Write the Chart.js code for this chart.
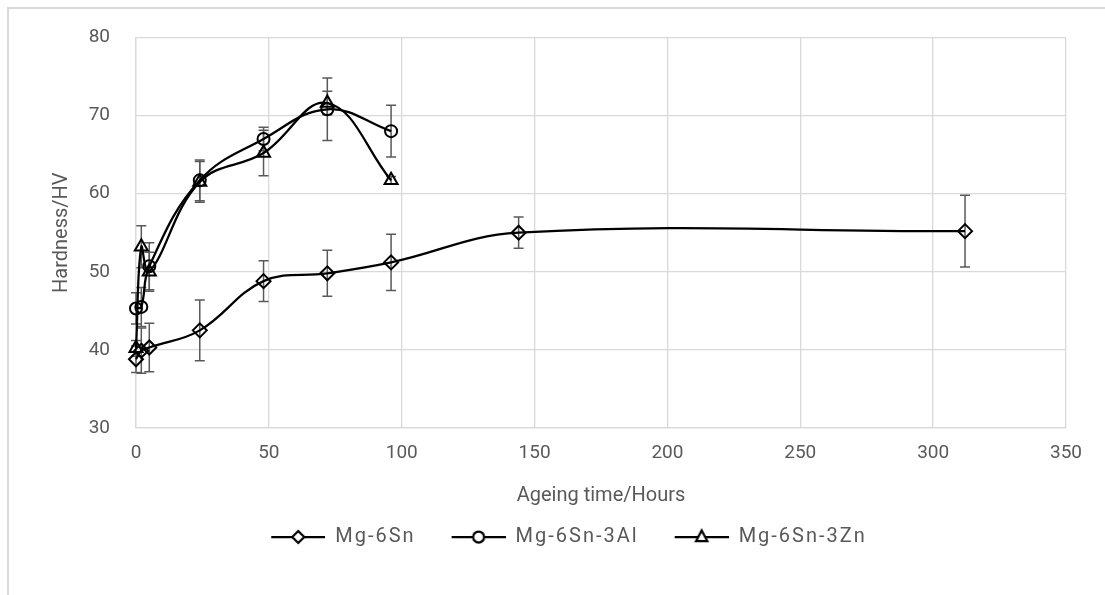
<!DOCTYPE html>
<html>
<head>
<meta charset="utf-8">
<script src="https://cdn.jsdelivr.net/npm/chart.js@4"></script>
<style>
  body { margin: 0; background: #fff; }
  #wrap { position: relative; width: 1105px; height: 595px; overflow: hidden; }
  #frame { position: absolute; left: 7px; top: 7px; width: 1200px; height: 700px;
           border-left: 2px solid #d9d9d9; border-top: 2px solid #d9d9d9; }
  canvas { position: absolute; left: 0; top: 0; }
</style>
</head>
<body>
<div id="wrap">
  <div id="frame"></div>
  <canvas id="out" width="1105" height="595"></canvas>
</div>
<script>
// ageing times (hours)
const hoursSn = [0, 2, 5, 24, 48, 72, 96, 144, 312];
const hoursAlloy = [0, 2, 5, 24, 48, 72, 96];

// hardness (HV) and error bar half-widths
const sn = [38.8, 39.9, 40.3, 42.5, 48.8, 49.8, 51.2, 55.0, 55.2];
const snErr = [1.7, 2.9, 3.1, 3.9, 2.6, 2.95, 3.6, 2.0, 4.6];

const snAl = [45.3, 45.5, 50.7, 61.7, 67.0, 70.8, 68.0];
const snAlErr = [2.0, 2.5, 3.0, 2.6, 1.5, 4.0, 3.3];

const snZn = [40.2, 53.2, 50.0, 61.5, 65.2, 71.6, 61.7];
const snZnErr = [1.0, 2.7, 2.5, 2.6, 2.9, 1.5, 0.5];

const seriesNames = ["Mg-6Sn", "Mg-6Sn-3Al", "Mg-6Sn-3Zn"];
const markers = ["rectRot", "circle", "triangle"];
const markerSizes = [7, 6, 7.5];

const xTicks = [0, 50, 100, 150, 200, 250, 300, 350];
const yTicks = [30, 40, 50, 60, 70, 80];

const textColor = "#595959";
const gridColor = "#d9d9d9";
const fontFamily = "Roboto, 'Noto Sans', sans-serif";

function toPoints(xs, ys, errs) {
  return xs.map((x, i) => ({ x: x, y: ys[i], err: errs[i] }));
}

// legend symbol: line with a hollow marker on it
function legendIcon(style) {
  const c = document.createElement("canvas");
  c.width = 74; c.height = 22;
  const g = c.getContext("2d");
  g.strokeStyle = "#000";
  g.lineWidth = 2.25;
  g.beginPath(); g.moveTo(20, 11); g.lineTo(74, 11); g.stroke();
  const cx = 47, cy = 11;
  g.beginPath();
  if (style === "rectRot") {
    g.moveTo(cx - 6, cy); g.lineTo(cx, cy - 6); g.lineTo(cx + 6, cy); g.lineTo(cx, cy + 6); g.closePath();
  } else if (style === "circle") {
    g.arc(cx, cy, 5.5, 0, Math.PI * 2);
  } else {
    g.moveTo(cx, cy - 6.5); g.lineTo(cx + 5.6, cy + 4); g.lineTo(cx - 5.6, cy + 4); g.closePath();
  }
  g.fillStyle = "#fff";
  g.fill();
  g.stroke();
  return c;
}

const errorBars = {
  id: "errorBars",
  beforeDatasetsDraw(chart) {
    const ctx = chart.ctx;
    const xs = chart.scales.x, ys = chart.scales.y;
    ctx.save();
    ctx.strokeStyle = "#595959";
    ctx.lineWidth = 1.5;
    chart.data.datasets.forEach(ds => {
      ds.data.forEach(p => {
        const px = xs.getPixelForValue(p.x);
        const top = ys.getPixelForValue(p.y + p.err);
        const bot = ys.getPixelForValue(p.y - p.err);
        ctx.beginPath();
        ctx.moveTo(px, top); ctx.lineTo(px, bot);
        ctx.moveTo(px - 5, top); ctx.lineTo(px + 5, top);
        ctx.moveTo(px - 5, bot); ctx.lineTo(px + 5, bot);
        ctx.stroke();
      });
    });
    ctx.restore();
  }
};

// wider letter spacing for the legend text, and legend centred under the
// full (cropped) chart area rather than the visible canvas
const legendTweak = {
  id: "legendTweak",
  afterInit(chart) {
    const lg = chart.legend;
    const fit = lg.fit.bind(lg), draw = lg.draw.bind(lg);
    lg.fit = function () { chart.ctx.letterSpacing = "2px"; fit(); chart.ctx.letterSpacing = "0px"; };
    lg.draw = function () { chart.ctx.letterSpacing = "2px"; draw(); chart.ctx.letterSpacing = "0px"; };
  },
  afterLayout(chart) {
    chart.legend.left += 22;
    chart.legend.right += 22;
  }
};

const allData = [
  toPoints(hoursSn, sn, snErr),
  toPoints(hoursAlloy, snAl, snAlErr),
  toPoints(hoursAlloy, snZn, snZnErr)
];

const datasets = allData.map((d, i) => ({
  label: seriesNames[i],
  data: d,
  clip: false,
  borderColor: "#000",
  borderWidth: 2.25,
  tension: 0.4,
  pointStyle: markers[i],
  pointRadius: markerSizes[i],
  pointHoverRadius: markerSizes[i],
  pointBorderColor: "#000",
  pointBorderWidth: 2,
  pointBackgroundColor: "rgba(0,0,0,0)"
}));

new Chart(document.getElementById("out").getContext("2d"), {
  type: "line",
  data: { datasets: datasets },
  plugins: [errorBars, legendTweak],
  options: {
    responsive: false,
    animation: false,
    layout: { padding: { left: 8, top: 37, right: 39, bottom: 38 } },
    plugins: {
      tooltip: { enabled: false },
      legend: {
        position: "bottom",
        labels: {
          usePointStyle: true,
          pointStyleWidth: 74,
          padding: 16,
          color: textColor,
          font: { family: fontFamily, size: 20 },
          generateLabels(chart) {
            const items = Chart.defaults.plugins.legend.labels.generateLabels(chart);
            items.forEach((it, i) => { it.pointStyle = legendIcon(markers[i]); });
            return items;
          }
        }
      }
    },
    scales: {
      x: {
        type: "linear",
        min: xTicks[0],
        max: xTicks[xTicks.length - 1],
        afterBuildTicks(s) { s.ticks = xTicks.map(v => ({ value: v })); },
        afterFit(s) { s.height = 83; },
        grid: { color: gridColor, lineWidth: 1.3, drawTicks: false },
        border: { color: gridColor, width: 1.3 },
        ticks: { color: textColor, padding: 14, font: { family: fontFamily, size: 19 } },
        title: {
          display: true,
          text: "Ageing time/Hours",
          color: textColor,
          padding: { top: 0, bottom: 3 },
          font: { family: fontFamily, size: 20 }
        }
      },
      y: {
        min: yTicks[0],
        max: yTicks[yTicks.length - 1],
        afterBuildTicks(s) { s.ticks = yTicks.map(v => ({ value: v })); },
        afterFit(s) { s.width = 128; },
        grid: { color: gridColor, lineWidth: 1.3, drawTicks: false },
        border: { color: gridColor, width: 1.3 },
        ticks: { color: textColor, padding: 26, font: { family: fontFamily, size: 19 } },
        title: {
          display: true,
          text: "Hardness/HV",
          color: textColor,
          padding: { top: 42, bottom: 0 },
          font: { family: fontFamily, size: 20 }
        }
      }
    }
  }
});
</script>
</body>
</html>
